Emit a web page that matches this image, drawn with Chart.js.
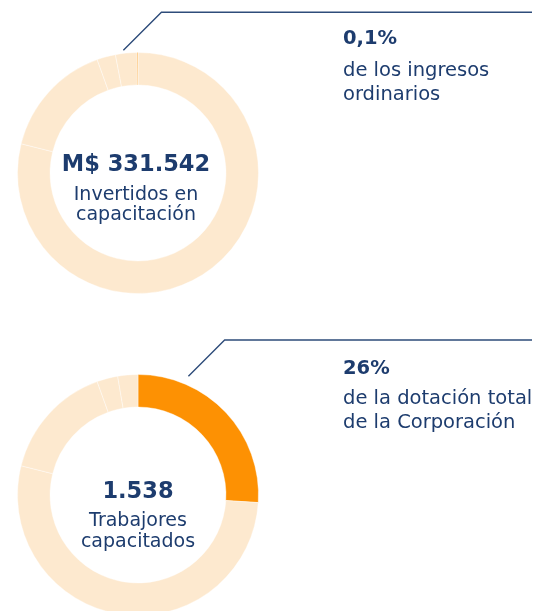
<!DOCTYPE html>
<html lang="es">
<head>
<meta charset="utf-8">
<script src="https://cdn.jsdelivr.net/npm/chart.js@4/dist/chart.umd.min.js"></script>
<style>
  html, body { margin: 0; padding: 0; background: #ffffff; width: 534px; height: 611px; overflow: hidden; }
  .panel { position: absolute; left: 0; width: 534px; }
</style>
</head>
<body>
<div class="panel" style="top:0;height:300px"><canvas id="inversion"></canvas></div>
<div class="panel" style="top:300px;height:320px"><canvas id="dotacion"></canvas></div>
<script>
// Inversión en capacitación: peso sobre los ingresos ordinarios
const inversionPct = 0.1;                          // % de los ingresos ordinarios
const inversionResto = [78.9, 15.6, 2.5, 2.9];     // tramos claros del anillo (%)
const inversionMonto = 'M$ 331.542';
const inversionRotulo = ['Invertidos en', 'capacitación'];
const inversionNota = ['de los ingresos', 'ordinarios'];

// Trabajadores capacitados: peso sobre la dotación total
const dotacionPct = 26;                            // % de la dotación total
const dotacionResto = [52.9, 15.6, 2.8, 2.7];      // tramos claros del anillo (%)
const dotacionTotal = '1.538';
const dotacionRotulo = ['Trabajores', 'capacitados'];
const dotacionNota = ['de la dotación total', 'de la Corporación'];

const NARANJA = '#FD9103';
const CREMA = '#FDE9CF';
const AZUL = '#1D3C6E';
const LINEA = '#2E4C7A';
const FUENTE = '"DejaVu Sans", sans-serif';

const fmtPct = v => String(v).replace('.', ',') + '%';

// Callout: leader line from the ring, headline figure in the hole, note on the right
function callout(cfg) {
  return {
    id: 'callout',
    afterDraw(chart) {
      const ctx = chart.ctx;
      const arc = chart.getDatasetMeta(0).data[0];
      const cx = arc.x, cy = arc.y, r = arc.outerRadius;

      // leader line
      const a = cfg.angle * Math.PI / 180;
      const sx = cx + (r + cfg.gap) * Math.sin(a);
      const sy = cy - (r + cfg.gap) * Math.cos(a);
      const kx = sx + (sy - cfg.lineY);
      ctx.save();
      ctx.strokeStyle = LINEA;
      ctx.lineWidth = 1.4;
      ctx.beginPath();
      ctx.moveTo(sx, sy);
      ctx.lineTo(kx, cfg.lineY);
      ctx.lineTo(chart.width - 2, cfg.lineY);
      ctx.stroke();

      // centre texts
      ctx.fillStyle = AZUL;
      ctx.textAlign = 'center';
      ctx.textBaseline = 'alphabetic';
      ctx.font = '700 22.5px ' + FUENTE;
      ctx.fillText(cfg.figure, cx + cfg.dx, cy + cfg.figureY);
      ctx.font = '400 19px ' + FUENTE;
      cfg.caption.forEach((t, i) => ctx.fillText(t, cx + cfg.dx, cy + cfg.captionY + i * cfg.captionStep));

      // note on the right
      ctx.textAlign = 'left';
      ctx.font = '700 19.5px ' + FUENTE;
      ctx.fillText(fmtPct(cfg.pct), cfg.noteX, cfg.pctY);
      ctx.font = '400 19.5px ' + FUENTE;
      cfg.note.forEach((t, i) => ctx.fillText(t, cfg.noteX, cfg.noteY + i * 24));
      ctx.restore();
    }
  };
}

function anillo(id, values, colors, padding, cfg) {
  return new Chart(document.getElementById(id), {
    type: 'doughnut',
    data: {
      labels: values.map((_, i) => 'tramo ' + (i + 1)),
      datasets: [{
        data: values,
        backgroundColor: colors,
        borderColor: 'rgba(255,255,255,0.4)',
        borderWidth: 1,
        hoverOffset: 0
      }]
    },
    options: {
      responsive: true,
      maintainAspectRatio: false,
      animation: false,
      events: [],
      cutout: '73%',
      rotation: 0,
      layout: { padding },
      plugins: { legend: { display: false }, tooltip: { enabled: false } }
    },
    plugins: [callout(cfg)]
  });
}

// top ring: the highlighted share closes the circle
anillo('inversion',
  [...inversionResto, inversionPct],
  [CREMA, CREMA, CREMA, CREMA, NARANJA],
  { left: 17, top: 52, right: 275, bottom: 6 },
  {
    angle: -6.8, gap: 3, lineY: 12.3,
    figure: inversionMonto, figureY: -2, dx: -2,
    caption: inversionRotulo, captionY: 27, captionStep: 20,
    pct: inversionPct, note: inversionNota,
    noteX: 343, pctY: 43.5, noteY: 75.5
  });

// bottom ring: the highlighted share opens the circle
anillo('dotacion',
  [dotacionPct, ...dotacionResto],
  [NARANJA, CREMA, CREMA, CREMA, CREMA],
  { left: 17, top: 74, right: 275, bottom: 4 },
  {
    angle: 23, gap: 8.5, lineY: 40,
    figure: dotacionTotal, figureY: 3, dx: 0,
    caption: dotacionRotulo, captionY: 31, captionStep: 20.5,
    pct: dotacionPct, note: dotacionNota,
    noteX: 343, pctY: 73.5, noteY: 104
  });
</script>
</body>
</html>
